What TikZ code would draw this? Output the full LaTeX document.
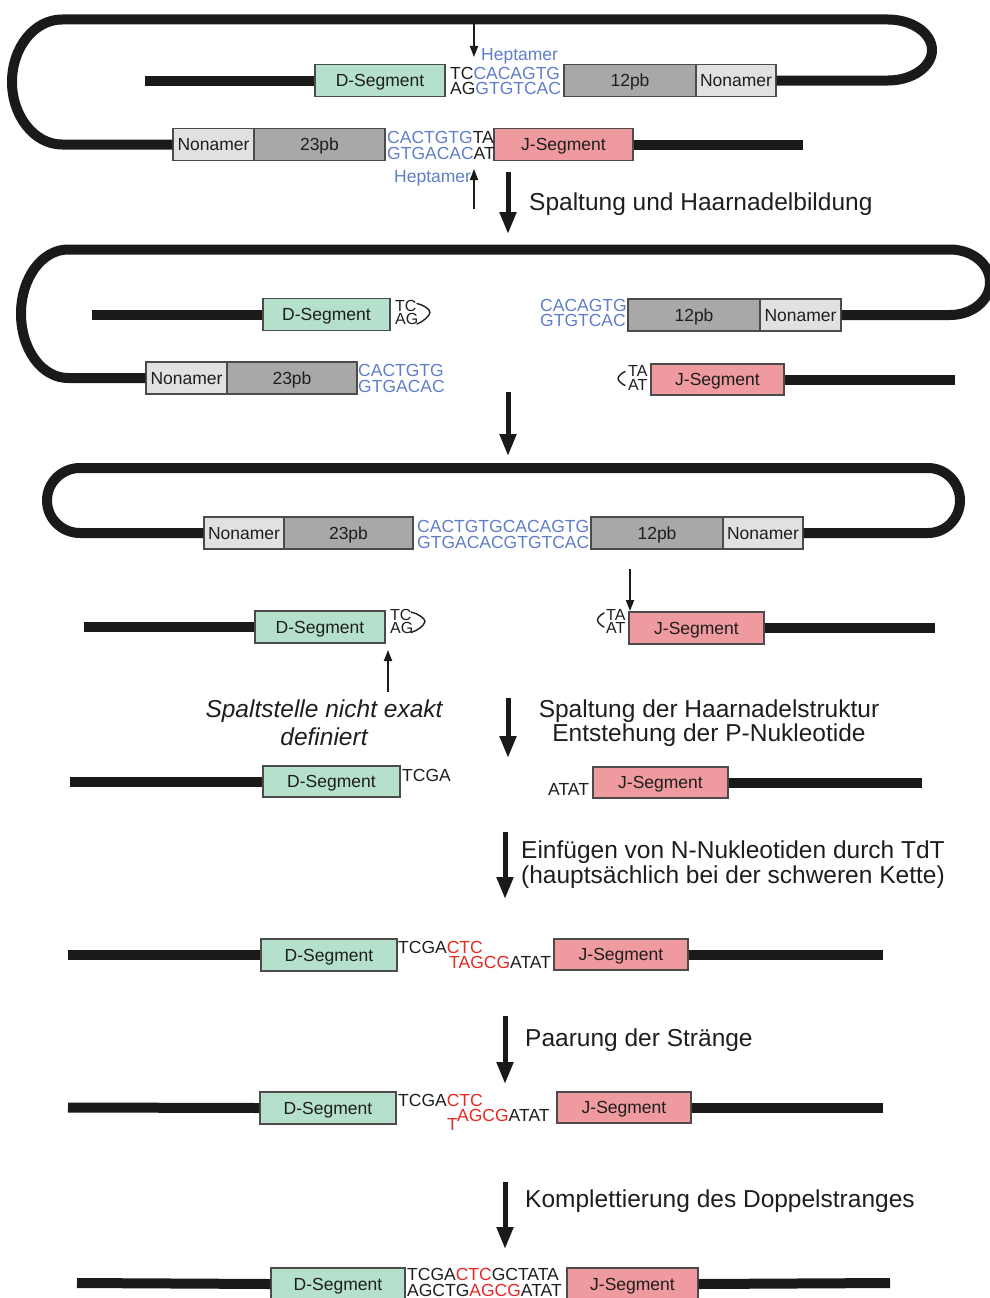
\documentclass[tikz,border=0pt]{standalone}
\usepackage{fontspec}
\setmainfont{Liberation Sans}
\usetikzlibrary{arrows.meta}
\definecolor{strandc}{RGB}{28,25,25}
\definecolor{boxline}{RGB}{75,75,75}
\definecolor{txt}{RGB}{30,30,30}
\definecolor{dgreen}{RGB}{180,224,204}
\definecolor{jpink}{RGB}{238,154,158}
\definecolor{pbgray}{RGB}{168,168,168}
\definecolor{nongray}{RGB}{225,225,225}
\definecolor{seqblue}{RGB}{96,125,200}
\definecolor{nred}{RGB}{230,40,35}
\newcommand\smallfs{\fontsize{17.5}{18}\selectfont}
\newcommand\pinfs{\fontsize{16}{16}\selectfont}
\newcommand\labfs{\fontsize{24.5}{26}\selectfont}
\newcommand\bl[1]{\textcolor{seqblue}{#1}}
\newcommand\rd[1]{\textcolor{nred}{#1}}
% two stacked bases with a fixed, tight line distance
\newcommand\basepair[2]{\vbox{\baselineskip=13.5pt\lineskiplimit=-30pt\lineskip=0pt\hbox{#1}\hbox{#2}}}
\begin{document}
\begin{tikzpicture}[x=1pt,y=-1pt,
  strand/.style={line width=10pt, draw=strandc, line join=round},
  box/.style={draw=boxline, line width=1.2pt, inner sep=0pt, minimum height=32pt,
    font=\smallfs, text=txt, text height=12.6pt, text depth=0pt},
  dseg/.style={box, fill=dgreen, minimum width=#1},
  jseg/.style={box, fill=jpink, minimum width=#1},
  pbbox/.style={box, fill=pbgray, minimum width=#1},
  nonbox/.style={box, fill=nongray, minimum width=#1},
  seq/.style={inner sep=0pt, anchor=base west, font=\smallfs, text=txt},
  pin/.style={seq, font=\pinfs},
  lab/.style={inner sep=0pt, anchor=base west, font=\labfs, text=txt},
  labc/.style={lab, anchor=base},
  bigarrow/.style={line width=5pt, draw=strandc, -{Triangle[width=16pt,length=22pt]}},
  thinarrow/.style={line width=1.8pt, draw=strandc, -{Triangle[width=8pt,length=11pt]}},
  hook/.style={line width=1.4pt, draw=txt, line cap=round, line join=round}]
\useasboundingbox (0,0) rectangle (989,1298);

% ---------- recombination signal sequences in the loop ----------
\node[dseg=130pt]   (d1)    at (380,80.5)  {D-Segment};
\node[pbbox=132pt]  (pb12a) at (630,80.5)  {12pb};
\node[nonbox=80pt]  (non1a) at (736,80.5)  {Nonamer};
\node[nonbox=81pt]  (non1b) at (213.5,144.5) {Nonamer};
\node[pbbox=131pt]  (pb23a) at (319.5,144.5) {23pb};
\node[jseg=139pt]   (j1)    at (563.5,144.5) {J-Segment};
\coordinate (e1l) at (145,80.5);
\coordinate (e1r) at (803,144.5);
\draw[strand] (e1l) -- (d1.west);
\draw[strand] (j1.east) -- (e1r);
\draw[strand] (non1b.west) -- (62,144.5)
  .. controls (34.4,144.5) and (12,116.1) .. (12,82)
  .. controls (12,47.4) and (34.4,19.5) .. (62,19.5) -- (888,19.5)
  .. controls (912.3,19.5) and (932,33.3) .. (932,50)
  .. controls (932,66.7) and (912.3,80.5) .. (888,80.5) -- (non1a.east);
\node[seq] (s1t) at (450,79) {TC\bl{CACAGTG}};
\node[seq] (s1b) at (450,95) {AG\bl{GTGTCAC}};
\node[seq] (hep1) at (481,60) {\bl{Heptamer}};
\node[seq] (s2t) at (387,143) {\bl{CACTGTG}TA};
\node[seq] (s2b) at (387,159) {\bl{GTGACAC}AT};
\node[seq] (hep2) at (394,182) {\bl{Heptamer}};
\coordinate (c1a) at (474,20);
\coordinate (c1b) at (474,57);
\draw[thinarrow] (c1a) -- (c1b);
\coordinate (c2a) at (474,209);
\coordinate (c2b) at (474,169);
\draw[thinarrow] (c2a) -- (c2b);

\coordinate (b1a) at (508,172);
\coordinate (b1b) at (508,234);
\draw[bigarrow] (b1a) -- (b1b);
\node[lab] (l1) at (529,210) {Spaltung und Haarnadelbildung};

% ---------- cleavage and hairpin formation ----------
\node[dseg=127pt]   (d2)    at (326.5,314.5) {D-Segment};
\node[pbbox=132pt]  (pb12b) at (694,315)   {12pb};
\node[nonbox=81pt]  (non2a) at (800.5,315) {Nonamer};
\node[nonbox=81pt]  (non2b) at (186.5,378) {Nonamer};
\node[pbbox=130pt]  (pb23b) at (292,378)   {23pb};
\node[jseg=133pt, minimum height=31pt] (j2) at (717.5,379.5) {J-Segment};
\coordinate (e2l) at (92,314.5);
\coordinate (e2r) at (955,379.5);
\draw[strand] (e2l) -- (d2.west);
\draw[strand] (j2.east) -- (e2r);
\draw[strand] (non2b.west) -- (68,378)
  .. controls (42,378) and (21,349.5) .. (21,313.75)
  .. controls (21,278) and (42,249.5) .. (68,249.5) -- (950,249.5)
  .. controls (972,249.5) and (990,264) .. (990,282.25)
  .. controls (990,300.5) and (972,315) .. (950,315) -- (non2a.east);
\node[pin] (p2) at (395,324.5) {\basepair{TC}{AG}};
\draw[hook] (417,303.5) .. controls (424,305) and (430,309.5) .. (430,312.5)
  .. controls (429,316.5) and (424,321) .. (417,324);
\node[seq] (s3t) at (540,311.5) {\bl{CACAGTG}};
\node[seq] (s3b) at (540,326.5) {\bl{GTGTCAC}};
\node[seq] (s4t) at (358,376) {\bl{CACTGTG}};
\node[seq] (s4b) at (358,392) {\bl{GTGACAC}};
\node[pin] (p3) at (628,390) {\basepair{TA}{AT}};
\draw[hook] (625,371.5) .. controls (621,373.5) and (618,376.5) .. (618,378.5)
  .. controls (618,380.5) and (621,383.5) .. (625,385.5);

\coordinate (b2a) at (508,392);
\coordinate (b2b) at (508,456);
\draw[bigarrow] (b2a) -- (b2b);

% ---------- joined signal ends and coding ends ----------
\node[nonbox=80pt]  (non3a) at (244,533)   {Nonamer};
\node[pbbox=129pt]  (pb23c) at (348.5,533) {23pb};
\node[pbbox=132pt]  (pb12c) at (657,533)   {12pb};
\node[nonbox=80pt]  (non3b) at (763,533)   {Nonamer};
\draw[strand] (non3a.west) -- (80,533)
  .. controls (61.8,533) and (47,518.5) .. (47,500.5)
  .. controls (47,482.5) and (61.8,468) .. (80,468) -- (928,468)
  .. controls (945.7,468) and (960,482.5) .. (960,500.5)
  .. controls (960,518.5) and (945.7,533) .. (928,533) -- (non3b.east);
\node[seq] (s5t) at (417,532) {\bl{CACTGTGCACAGTG}};
\node[seq] (s5b) at (417,548) {\bl{GTGACACGTGTCAC}};

\node[dseg=130pt]  (d3) at (320,627)   {D-Segment};
\node[jseg=135pt]  (j3) at (696.5,628) {J-Segment};
\coordinate (e3l) at (84,627);
\coordinate (e3r) at (935,628);
\draw[strand] (e3l) -- (d3.west);
\draw[strand] (j3.east) -- (e3r);
\node[pin] (p4) at (390,633.5) {\basepair{TC}{AG}};
\draw[hook] (411,612) .. controls (418,613.5) and (425,618.5) .. (425,621.5)
  .. controls (424,625.5) and (418,630.5) .. (411,632.5);
\node[pin] (p5) at (606,633.5) {\basepair{TA}{AT}};
\draw[hook] (604,613) .. controls (600,615) and (597.5,618) .. (597.5,620)
  .. controls (597.5,622) and (600,625) .. (604,627);
\coordinate (c3a) at (630,569);
\coordinate (c3b) at (630,611);
\draw[thinarrow] (c3a) -- (c3b);
\coordinate (c4a) at (388,692);
\coordinate (c4b) at (388,650);
\draw[thinarrow] (c4a) -- (c4b);
\node[labc, font=\labfs\itshape] (it1) at (324,717) {Spaltstelle nicht exakt};
\node[labc, font=\labfs\itshape] (it2) at (324,745) {definiert};

\coordinate (b3a) at (508,698);
\coordinate (b3b) at (508,758);
\draw[bigarrow] (b3a) -- (b3b);
\node[labc] (l3a) at (709,717) {Spaltung der Haarnadelstruktur};
\node[labc] (l3b) at (709,741) {Entstehung der P-Nukleotide};

% ---------- opened hairpins ----------
\node[dseg=137pt, minimum height=31pt] (d4) at (331.5,781.5) {D-Segment};
\node[jseg=135pt, minimum height=31pt] (j4) at (660.5,782.5) {J-Segment};
\coordinate (e4l) at (70,781.5);
\coordinate (e4r) at (922,782.5);
\draw[strand] (e4l) -- (d4.west);
\draw[strand] (j4.east) -- (e4r);
\node[seq] (s6) at (402,781) {TCGA};
\node[seq] (s7) at (548,795) {ATAT};

\coordinate (b4a) at (505,832);
\coordinate (b4b) at (505,899);
\draw[bigarrow] (b4a) -- (b4b);
\node[lab] (l4a) at (521,858) {Einfügen von N-Nukleotiden durch TdT};
\node[lab] (l4b) at (521,883) {(hauptsächlich bei der schweren Kette)};

% ---------- N nucleotides added ----------
\node[dseg=136pt] (d5) at (329,955) {D-Segment};
\node[jseg=134pt, minimum height=31pt] (j5) at (621,954.5) {J-Segment};
\coordinate (e5l) at (68,955);
\coordinate (e5r) at (883,954.5);
\draw[strand] (e5l) -- (d5.west);
\draw[strand] (j5.east) -- (e5r);
\node[seq] (s8t) at (398,953) {TCGA\rd{CTC}};
\node[seq] (s8b) at (449,968) {\rd{TAGCG}ATAT};

\coordinate (b5a) at (505,1016);
\coordinate (b5b) at (505,1084);
\draw[bigarrow] (b5a) -- (b5b);
\node[lab] (l5) at (525,1046) {Paarung der Stränge};

% ---------- paired strands ----------
\node[dseg=136pt] (d6) at (328,1108) {D-Segment};
\node[jseg=134pt, minimum height=31pt] (j6) at (624,1107.5) {J-Segment};
\coordinate (e6l) at (68,1107.5);
\coordinate (e6r) at (883,1107.5);
\draw[strand] (e6l) -- (d6.west);
\draw[strand] (j6.east) -- (e6r);
\node[seq] (s9t) at (398,1106) {TCGA\rd{CTC}};
\node[seq] (s9x) at (447,1130) {\rd{T}};
\node[seq] (s9b) at (457,1121) {\rd{AGCG}ATAT};

\coordinate (b6a) at (505,1182);
\coordinate (b6b) at (505,1249);
\draw[bigarrow] (b6a) -- (b6b);
\node[lab] (l6) at (525,1207) {Komplettierung des Doppelstranges};

% ---------- completed double strand ----------
\node[dseg=134pt] (d7) at (338,1284)   {D-Segment};
\node[jseg=131pt] (j7) at (632.5,1284) {J-Segment};
\coordinate (e7l) at (77,1283);
\coordinate (e7r) at (890,1283);
\draw[strand] (e7l) -- (d7.west);
\draw[strand] (j7.east) -- (e7r);
\node[seq] (s10t) at (407,1280) {TCGA\rd{CTC}GCTATA};
\node[seq] (s10b) at (407,1296) {AGCTG\rd{AGCG}ATAT};
\end{tikzpicture}
\end{document}
